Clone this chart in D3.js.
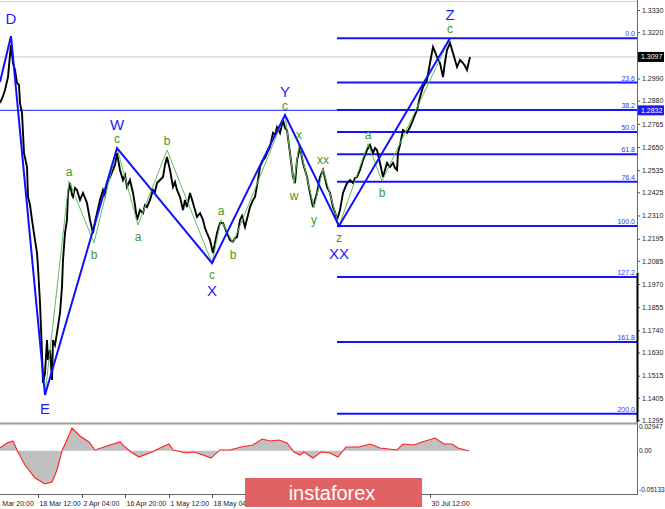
<!DOCTYPE html>
<html>
<head>
<meta charset="utf-8">
<script src="https://cdn.jsdelivr.net/npm/d3@7"></script>
<style>
body { margin: 0; background: #fff; }
svg { display: block; }
</style>
</head>
<body>
<div id="chart"></div>
<script>
// ---- price (H4 closes, bar index) ----
var priceBars = [
	0,3,5,8,10,11,13,15,17,19,
	20,22,24,27,28,30,32,33,35,37,
	38,40,42,43,45,47,48,50,52,53,
	55,57,60,62,63,65,67,68,70,72,
	73,75,77,80,83,85,87,90,93,95,
	97,100,103,105,107,110,113,115,117,120,
	123,125,127,130,133,135,137,140,143,145,
	147,150,153,155,157,160,163,165,167,170,
	173,175,177,180,183,185,187,190,193,195,
	197,200,203,205,207,210,213,215,217,220,
	223,225,227,230,233,235,237,240,242,245,
	248,250,253,255,258,260,263,265,267,270,
	273,275,277,280,283,285,287,290,293,295,
	297,300,303,305,307,310,313,315,317,320,
	323,325,327,330,333,335,337,340,343,345,
	347,350,353,355,357,360,363,365,367,370,
	373,375,377,380,383,385,387,390,393,395,
	397,398,400,403,407,410,413,417,420,423,
	427,430,433,435,437,440,443,445,447,450,
	453,455,457,460,463,465,467,470];
var priceClose = [
	1.2868,1.2903,1.2933,1.2997,1.3107,1.3156,1.3067,1.3032,1.2968,1.2958,
	1.2868,1.2819,1.2620,1.2551,1.2402,1.2362,1.2288,1.2253,1.2188,1.2124,
	1.2054,1.1876,1.1628,1.1479,1.1528,1.1692,1.1593,1.1643,1.1494,1.1692,
	1.1667,1.1727,1.1826,1.1955,1.2089,1.2223,1.2288,1.2422,1.2471,1.2412,
	1.2402,1.2447,1.2437,1.2387,1.2422,1.2397,1.2372,1.2288,1.2223,1.2278,
	1.2322,1.2387,1.2437,1.2412,1.2471,1.2501,1.2536,1.2561,1.2620,1.2536,
	1.2486,1.2511,1.2452,1.2486,1.2422,1.2362,1.2288,1.2337,1.2322,1.2362,
	1.2352,1.2387,1.2437,1.2427,1.2471,1.2486,1.2501,1.2561,1.2600,1.2536,
	1.2452,1.2476,1.2437,1.2402,1.2337,1.2387,1.2352,1.2422,1.2372,1.2337,
	1.2303,1.2322,1.2288,1.2248,1.2223,1.2188,1.2124,1.2174,1.2223,1.2273,
	1.2273,1.2248,1.2223,1.2188,1.2179,1.2198,1.2203,1.2288,1.2308,1.2253,
	1.2313,1.2352,1.2387,1.2402,1.2486,1.2551,1.2585,1.2595,1.2620,1.2650,
	1.2720,1.2710,1.2749,1.2720,1.2784,1.2744,1.2734,1.2620,1.2501,1.2471,
	1.2585,1.2650,1.2571,1.2536,1.2501,1.2422,1.2352,1.2387,1.2422,1.2501,
	1.2536,1.2496,1.2452,1.2422,1.2352,1.2327,1.2288,1.2337,1.2422,1.2447,
	1.2471,1.2486,1.2471,1.2496,1.2501,1.2536,1.2585,1.2610,1.2635,1.2660,
	1.2620,1.2645,1.2635,1.2571,1.2501,1.2536,1.2571,1.2551,1.2571,1.2546,
	1.2536,1.2620,1.2660,1.2734,1.2720,1.2749,1.2784,1.2834,1.2898,1.2948,
	1.2983,1.3067,1.3146,1.3122,1.3097,1.3067,1.2997,1.3072,1.3131,1.3166,
	1.3117,1.3082,1.3047,1.3082,1.3067,1.3052,1.3032,1.3097];

// ---- main wave count (blue) ----
var waveBars   = [0, 11, 45, 117, 212, 285, 339, 450];
var wavePrices = [1.2973, 1.3201, 1.1419, 1.2645, 1.2074, 1.2809, 1.2258, 1.3190];
var waveLabels = ["", "D", "E", "W", "X", "Y", "XX", "Z"];

// ---- sub waves (green) ----
var subWaves = [
	{ bars: [45, 69, 94, 117],   prices: [1.1419, 1.2481, 1.2174, 1.2645], labels: ["", "a", "b", "c"] },
	{ bars: [117, 138, 167, 212], prices: [1.2645, 1.2263, 1.2635, 1.2074], labels: ["", "a", "b", "c"] },
	{ bars: [212, 221, 233, 285], prices: [1.2074, 1.2288, 1.2174, 1.2809], labels: ["", "a", "b", "c"] },
	{ bars: [285, 294, 299, 314, 323, 339], prices: [1.2809, 1.2467, 1.2665, 1.2347, 1.2541, 1.2258], labels: ["", "w", "x", "y", "xx", "z"] },
	{ bars: [339, 368, 382, 450], prices: [1.2258, 1.2665, 1.2481, 1.3190], labels: ["", "a", "b", "c"] }
];

// ---- fibonacci grid ----
var fibLevels = [0, 23.6, 38.2, 50, 61.8, 76.4, 100, 127.2, 161.8, 200];
var fibStartBar = 337;
var hLinePrice = 1.2832;
var lastPrice = 1.3097;

// ---- axes ----
var priceTicks = [1.3330, 1.3220, 1.2990, 1.2880, 1.2765, 1.2650, 1.2535, 1.2425, 1.2310,
	1.2195, 1.2085, 1.1970, 1.1855, 1.1740, 1.1630, 1.1515, 1.1405, 1.1295];
var timeTickBars = [-5, 38, 82, 125, 169, 212, 430];
var timeTickLabels = ["4 Mar 20:00", "18 Mar 12:00", "2 Apr 04:00", "16 Apr 20:00", "1 May 12:00", "18 May 04:00", "30 Jul 12:00"];

// ---- oscillator ----
var oscBars = [0,7,13,17,25,35,45,52,57,62,72,80,89,95,110,120,125,131,139,152,160,169,173,186,194,203,211,
	220,230,241,253,262,270,279,287,294,300,304,313,321,330,338,346,359,370,380,389,397,403,414,422,435,444,452,458,469];
var oscValues = [0.0033,0.0093,0.0116,0.0010,-0.0169,-0.0323,-0.0394,-0.0371,-0.0228,-0.0002,0.0271,0.0176,0.0105,
	0.0010,0.0069,0.0105,0.0045,-0.0014,-0.0074,-0.0014,0.0033,0.0081,0.0010,-0.0026,-0.0014,-0.0050,-0.0086,
	0.0010,0.0010,0.0045,0.0069,0.0140,0.0116,0.0128,0.0093,-0.0014,-0.0050,-0.0014,-0.0086,-0.0014,-0.0026,
	-0.0074,0.0045,0.0045,0.0081,0.0033,0.0021,0.0010,0.0081,0.0069,0.0105,0.0152,0.0081,0.0081,0.0033,-0.0002];
var oscMax = 0.02947, oscMin = -0.05133;

var width = 665, height = 509;
var plotRight = 637;

var svg = d3.select("#chart").append("svg")
	.attr("width", width).attr("height", height)
	.style("font-family", "'Liberation Sans', Arial, sans-serif");

var x = d3.scaleLinear().domain([0, 637]).range([0, plotRight]);
var y = d3.scaleLinear().domain([1.1295, 1.3330]).range([420, 10]);
var yOsc = d3.scaleLinear().domain([oscMin, oscMax]).range([494, 426]);

svg.append("defs").append("clipPath").attr("id", "mainClip")
	.append("rect").attr("x", 0).attr("y", 2).attr("width", plotRight).attr("height", 421);

var main = svg.append("g").attr("clip-path", "url(#mainClip)");

// current price line
main.append("line")
	.attr("x1", 0).attr("x2", plotRight)
	.attr("y1", y(lastPrice)).attr("y2", y(lastPrice))
	.attr("stroke", "#c8c8c8").attr("stroke-width", 1);

// horizontal level
main.append("line")
	.attr("x1", 0).attr("x2", plotRight)
	.attr("y1", y(hLinePrice)).attr("y2", y(hLinePrice))
	.attr("stroke", "#4646ff").attr("stroke-width", 1.4);

// fib lines
var fibHigh = wavePrices[7], fibLow = wavePrices[6];
function fibPrice(lev) { return fibHigh - lev / 100 * (fibHigh - fibLow); }

main.selectAll(".fib").data(fibLevels).enter().append("line")
	.attr("x1", x(fibStartBar)).attr("x2", plotRight)
	.attr("y1", function(d) { return y(fibPrice(d)); })
	.attr("y2", function(d) { return y(fibPrice(d)); })
	.attr("stroke", "#1414ff").attr("stroke-width", 2);

main.selectAll(".fibText").data(fibLevels).enter().append("text")
	.attr("x", plotRight - 2)
	.attr("y", function(d) { return y(fibPrice(d)) - 2; })
	.attr("text-anchor", "end")
	.attr("font-size", 7)
	.attr("fill", "#3535ff")
	.text(function(d) { return d.toFixed(1); });

// price
var priceData = d3.zip(priceBars, priceClose);
main.append("path")
	.datum(priceData)
	.attr("fill", "none")
	.attr("stroke", "#000")
	.attr("stroke-width", 1.9)
	.attr("d", d3.line().x(function(d) { return x(d[0]); }).y(function(d) { return y(d[1]); }));

// green sub waves
var lineGen = d3.line().x(function(d) { return x(d[0]); }).y(function(d) { return y(d[1]); });
subWaves.forEach(function(w) {
	main.append("path")
		.datum(d3.zip(w.bars, w.prices))
		.attr("fill", "none")
		.attr("stroke", "#62bb62")
		.attr("stroke-width", 1)
		.attr("d", lineGen);
});

// blue main waves
main.append("path")
	.datum(d3.zip(waveBars, wavePrices))
	.attr("fill", "none")
	.attr("stroke", "#1010ff")
	.attr("stroke-width", 2)
	.attr("d", lineGen);

// labels
function isPeak(prices, i) {
	var other = i > 0 ? prices[i - 1] : prices[i + 1];
	return prices[i] > other;
}

subWaves.forEach(function(w) {
	w.labels.forEach(function(lab, i) {
		if (!lab) return;
		var peak = isPeak(w.prices, i);
		main.append("text")
			.attr("x", x(w.bars[i]))
			.attr("y", y(w.prices[i]) + (peak ? -9 : 12))
			.attr("dy", "0.35em")
			.attr("text-anchor", "middle")
			.attr("font-size", 12)
			.attr("fill", "#3f9a28")
			.text(lab);
	});
});

var greenAt = {};
subWaves.forEach(function(w) { greenAt[w.bars[w.bars.length - 1]] = true; });

waveLabels.forEach(function(lab, i) {
	if (!lab) return;
	var peak = isPeak(wavePrices, i);
	var off = greenAt[waveBars[i]] ? (peak ? -23 : 28) : (peak ? -17 : 14);
	main.append("text")
		.attr("x", x(waveBars[i]))
		.attr("y", y(wavePrices[i]) + off)
		.attr("dy", "0.35em")
		.attr("text-anchor", "middle")
		.attr("font-size", 15)
		.attr("fill", "#1c1cff")
		.text(lab);
});

// top border
svg.append("line").attr("x1", 0).attr("x2", plotRight).attr("y1", 1.5).attr("y2", 1.5)
	.attr("stroke", "#d0d0d0");

// panel separator
svg.append("line").attr("x1", 0).attr("x2", plotRight).attr("y1", 423.5).attr("y2", 423.5)
	.attr("stroke", "#999").attr("stroke-width", 2);

// price axis
var yAxis = svg.append("g")
	.attr("transform", "translate(" + plotRight + ",0)")
	.call(d3.axisRight(y).tickValues(priceTicks).tickSize(3).tickPadding(2).tickFormat(d3.format(".4f")));
yAxis.select(".domain").remove();
yAxis.selectAll("text").attr("font-size", 7).attr("fill", "#222").style("font-family", "'Liberation Sans', Arial, sans-serif");
yAxis.selectAll("line").attr("stroke", "#555");

// axis lines
svg.append("line").attr("x1", plotRight + 0.5).attr("x2", plotRight + 0.5).attr("y1", 0).attr("y2", 494)
	.attr("stroke", "#666");
svg.append("line").attr("x1", plotRight + 0.5).attr("x2", plotRight + 0.5).attr("y1", 273).attr("y2", 422)
	.attr("stroke", "#000").attr("stroke-width", 2);

// price boxes
function priceBox(price, fill) {
	var g = svg.append("g").attr("transform", "translate(" + (plotRight + 1) + "," + y(price) + ")");
	g.append("rect").attr("x", 0).attr("y", -5).attr("width", 26).attr("height", 10).attr("fill", fill);
	g.append("text").attr("x", 3).attr("y", 0).attr("dy", "0.35em")
		.attr("font-size", 7).attr("fill", "#fff").text(price.toFixed(4));
}
priceBox(lastPrice, "#000");
priceBox(hLinePrice, "#1a1aff");

// oscillator
var osc = d3.zip(oscBars, oscValues);
svg.append("path")
	.datum(osc)
	.attr("fill", "#c0c0c0")
	.attr("d", d3.area().x(function(d) { return x(d[0]); }).y0(yOsc(0)).y1(function(d) { return yOsc(d[1]); }));
svg.append("path")
	.datum(osc)
	.attr("fill", "none")
	.attr("stroke", "#ff1e1e")
	.attr("stroke-width", 1.1)
	.attr("d", d3.line().x(function(d) { return x(d[0]); }).y(function(d) { return yOsc(d[1]); }));

var oscLabels = [
	{ v: oscMax, t: "0.02947", dy: 1 },
	{ v: 0, t: "0.00", dy: 0 },
	{ v: oscMin, t: "-0.05133", dy: -4 }
];
svg.selectAll(".oscLab").data(oscLabels).enter().append("text")
	.attr("x", plotRight + 2)
	.attr("y", function(d) { return yOsc(d.v) + d.dy; })
	.attr("dy", "0.35em")
	.attr("font-size", 6.5)
	.attr("fill", "#222")
	.text(function(d) { return d.t; });

// time axis
var xAxis = svg.append("g")
	.attr("transform", "translate(0,494)")
	.call(d3.axisBottom(x).tickValues(timeTickBars).tickSize(4).tickPadding(3)
		.tickFormat(function(d, i) { return timeTickLabels[i]; }));
xAxis.select(".domain").attr("d", "M0,0.5H" + (plotRight + 1)).attr("stroke", "#666");
xAxis.selectAll("line").attr("stroke", "#555");
xAxis.selectAll("text").attr("text-anchor", "start").attr("dx", 1)
	.attr("font-size", 7).attr("fill", "#222").style("font-family", "'Liberation Sans', Arial, sans-serif");

// watermark
svg.append("rect").attr("x", 245).attr("y", 478).attr("width", 177).attr("height", 29).attr("fill", "#e06262");
svg.append("text").attr("x", 332).attr("y", 500).attr("text-anchor", "middle")
	.attr("font-size", 20).attr("fill", "#fff").text("instaforex");
</script>
</body>
</html>
